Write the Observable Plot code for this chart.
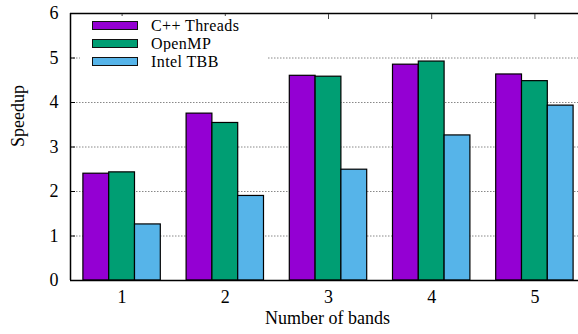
<!DOCTYPE html>
<html><head><meta charset="utf-8">
<script src="https://cdn.jsdelivr.net/npm/d3@7"></script>
<script src="https://cdn.jsdelivr.net/npm/@observablehq/plot@0.6"></script>
<style>
html,body{margin:0;padding:0;background:#fff;overflow:hidden;}
#wrap{position:relative;width:578px;height:334px;}
svg text{font-family:"Liberation Serif","Times New Roman",Times,"DejaVu Serif",serif !important;}
.legend{position:absolute;left:80px;top:16px;width:188px;height:54px;background:#fff;font-family:"Liberation Serif","Times New Roman",Times,"DejaVu Serif",serif;font-size:16px;line-height:17px;color:#000;}
.row{display:flex;align-items:center;height:18px;overflow:hidden;}
.row span.t{display:block;line-height:17px;height:17px;letter-spacing:0.4px;}
.sw{width:44px;height:7px;margin-left:12px;margin-right:13px;border:1px solid #111;}
</style>
</head><body>
<div id="wrap"></div>
<script>
const bands = [1, 2, 3, 4, 5];
const series = ["C++ Threads", "OpenMP", "Intel TBB"];
const cppThreads = [2.40, 3.75, 4.60, 4.85, 4.63];
const openMP = [2.43, 3.54, 4.58, 4.92, 4.48];
const intelTBB = [1.26, 1.90, 2.49, 3.26, 3.93];
const colors = ["#9400d3", "#009e73", "#56b4e9"];
const yTicks = [0, 1, 2, 3, 4, 5, 6];
const gridTicks = [1, 2, 3, 4, 5];

const seriesValues = [cppThreads, openMP, intelTBB];
const rows = [];
series.forEach((s, si) => bands.forEach((b, i) => rows.push({band: b, series: s, si, value: seriesValues[si][i]})));
const barW = 0.25;

const FONT = "Liberation Serif, Times New Roman, serif";
const chart = Plot.plot({
  width: 578, height: 334,
  marginLeft: 70, marginRight: 0, marginTop: 13, marginBottom: 54,
  style: {fontFamily: FONT, fontSize: "18px", color: "#000", background: "#fff"},
  x: {type: "linear", domain: [0.5, 5.5], range: [70, 586], label: null},
  y: {domain: [0, 6], label: null},
  color: {domain: series, range: colors},
  marks: [
    Plot.gridY(gridTicks, {stroke: "#888", strokeOpacity: 1, strokeWidth: 1, strokeDasharray: "1.5,1.5"}),
    Plot.rect(rows, {
      x1: d => d.band + (d.si - 1.5) * barW,
      x2: d => d.band + (d.si - 0.5) * barW,
      y1: 0, y2: "value", fill: "series", stroke: "#000", strokeWidth: 1.2
    }),
    Plot.ruleY([0, 6], {stroke: "#000", strokeWidth: 1.5}),
    Plot.ruleX([0.5], {stroke: "#000", strokeWidth: 1.5}),
    Plot.axisY(yTicks, {tickSize: 0, tickPadding: 12, fontSize: 18}),
    Plot.axisY(yTicks, {tickSize: -5, tickFormat: () => "", stroke: "#000"}),
    Plot.axisX(bands, {anchor: "bottom", tickSize: 0, tickPadding: 10, fontSize: 18, tickFormat: d => String(d)}),
    Plot.axisX(bands, {anchor: "top", tickSize: -5, tickFormat: () => "", stroke: "#444"}),
    Plot.text(["Speedup"], {text: d => d, frameAnchor: "left", rotate: -90, dx: -52, fontSize: 18}),
    Plot.text(["Number of bands"], {text: d => d, frameAnchor: "bottom", dy: 43, dx: 3, fontSize: 18})
  ]
});
const wrap = document.getElementById("wrap");
wrap.appendChild(chart);
const legend = document.createElement("div");
legend.className = "legend";
series.forEach((s, i) => {
  const row = document.createElement("div");
  row.className = "row";
  const sw = document.createElement("span");
  sw.className = "sw";
  sw.style.background = colors[i];
  const t = document.createElement("span");
  t.className = "t";
  t.textContent = s;
  row.appendChild(sw); row.appendChild(t);
  legend.appendChild(row);
});
wrap.appendChild(legend);
</script>
</body></html>
